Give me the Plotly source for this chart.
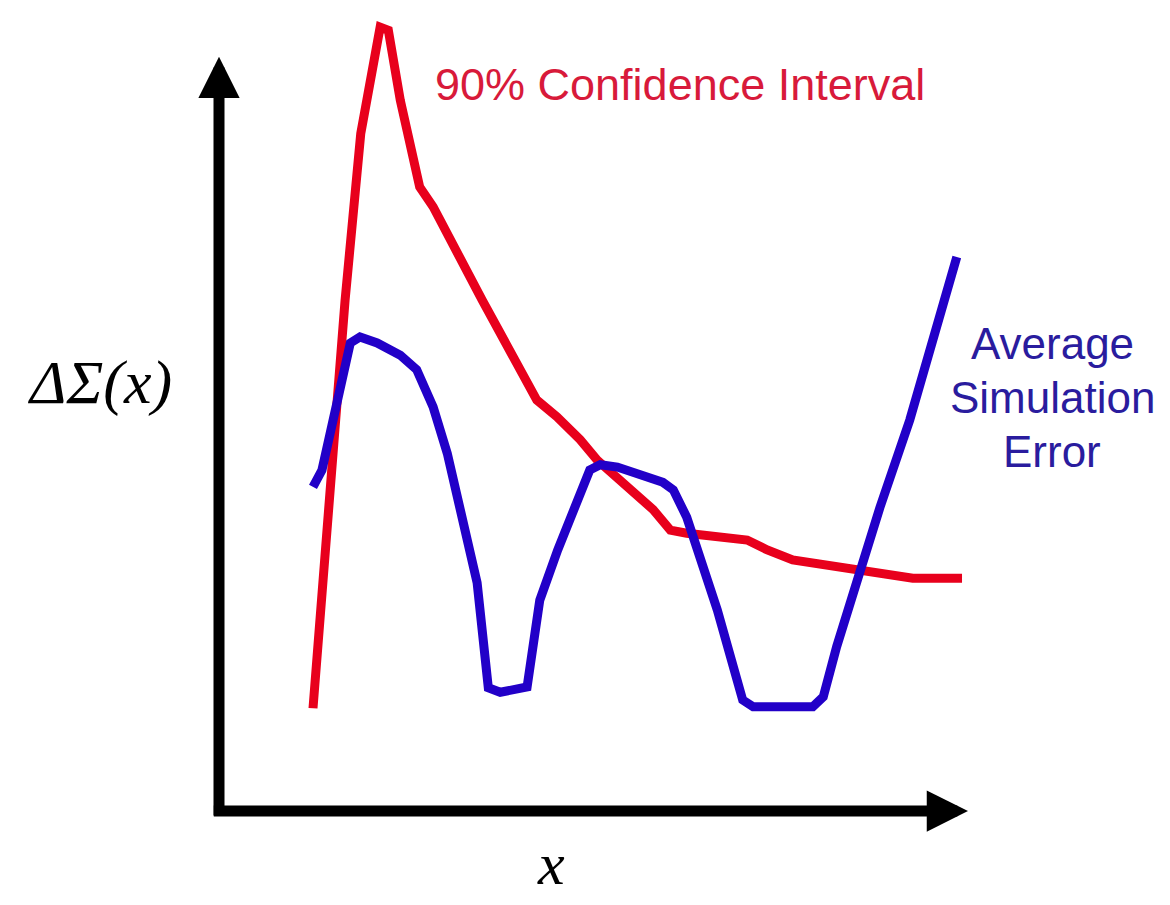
import plotly.graph_objects as go

# ---- data (arbitrary units, origin at the axes corner) ----
ci_x = [1.26, 1.69, 1.90, 2.16, 2.27, 2.43, 2.69, 2.87, 3.53, 3.94, 4.26, 4.53, 4.84,
        5.07, 5.47, 5.82, 6.05, 6.27, 7.08, 7.35, 7.69, 8.36, 8.82, 9.30, 9.96]
ci_y = [1.35, 6.71, 8.90, 10.30, 10.26, 9.34, 8.20, 7.94, 6.71, 5.97, 5.40, 5.18, 4.88,
        4.61, 4.26, 3.96, 3.69, 3.65, 3.56, 3.43, 3.30, 3.19, 3.13, 3.06, 3.06]

err_x = [1.26, 1.38, 1.76, 1.89, 2.12, 2.43, 2.65, 2.87, 3.06, 3.32, 3.46, 3.61, 3.77,
         4.13, 4.30, 4.54, 4.97, 5.11, 5.34, 5.95, 6.09, 6.27, 6.45, 6.68, 7.02, 7.16,
         7.96, 8.10, 8.28, 8.50, 8.69, 8.86, 9.26, 9.89]
err_y = [4.26, 4.48, 6.15, 6.23, 6.15, 5.99, 5.80, 5.31, 4.70, 3.65, 3.00, 1.62, 1.56,
         1.63, 2.77, 3.43, 4.48, 4.55, 4.52, 4.32, 4.22, 3.86, 3.30, 2.64, 1.46, 1.37,
         1.37, 1.50, 2.16, 2.86, 3.39, 3.99, 5.14, 7.28]

ci_label = "90% Confidence Interval"
err_label_lines = ["Average", "Simulation", "Error"]
y_label = "ΔΣ(x)"
x_label = "x"

RED = "#e8001c"
BLUE = "#2200c8"
RED_TXT = "#d81a3a"
BLUE_TXT = "#2a1c9e"

PAGE_W, PAGE_H = 1170, 905
OFF = 8  # default body margin of the html page
W, H = PAGE_W - OFF, PAGE_H - OFF
# page-pixel scale of the data area
ox, oy = 219.0 - OFF, 811.0 - OFF
sx, sy = 74.6, 76.1
xr = [(0 - ox) / sx, (W - ox) / sx]
yr = [(oy - H) / sy, (oy - 0) / sy]

fig = go.Figure()
fig.add_trace(go.Scatter(x=ci_x, y=ci_y, mode="lines",
                         line=dict(color=RED, width=9), hoverinfo="skip"))
fig.add_trace(go.Scatter(x=err_x, y=err_y, mode="lines",
                         line=dict(color=BLUE, width=9), hoverinfo="skip"))

annotations = []
# axis arrows
annotations.append(dict(x=0, y=9.91, ax=0, ay=-0.08, xref="x", yref="y", axref="x", ayref="y",
                        text="", showarrow=True, arrowhead=2, arrowwidth=11, arrowsize=0.75,
                        arrowcolor="black", standoff=0))
annotations.append(dict(x=10.04, y=0, ax=-0.09, ay=0, xref="x", yref="y", axref="x", ayref="y",
                        text="", showarrow=True, arrowhead=2, arrowwidth=11, arrowsize=0.75,
                        arrowcolor="black", standoff=0))


def px(xp):
    return (xp - OFF) / W


def py(yp):
    return 1 - (yp - OFF) / H


annotations.append(dict(x=px(680), y=py(84), xref="paper", yref="paper", text=ci_label,
                        showarrow=False, xanchor="center", yanchor="middle",
                        font=dict(family="Arial, Liberation Sans", size=45, color=RED_TXT)))
for t, yc in zip(err_label_lines, [343, 397, 451]):
    annotations.append(dict(x=px(1052), y=py(yc), xref="paper", yref="paper", text=t,
                            showarrow=False, xanchor="center", yanchor="middle",
                            font=dict(family="Arial, Liberation Sans", size=44, color=BLUE_TXT)))
annotations.append(dict(x=px(99), y=py(383), xref="paper", yref="paper",
                        text="<i>" + y_label + "</i>", showarrow=False,
                        xanchor="center", yanchor="middle",
                        font=dict(family="Liberation Serif, Times New Roman, serif", size=62, color="black")))
annotations.append(dict(x=px(551), y=py(864), xref="paper", yref="paper",
                        text="<i>" + x_label + "</i>", showarrow=False,
                        xanchor="center", yanchor="middle",
                        font=dict(family="Liberation Serif, Times New Roman, serif", size=60, color="black")))

fig.update_layout(
    width=W, height=H,
    margin=dict(l=0, r=0, t=0, b=0),
    paper_bgcolor="white", plot_bgcolor="white",
    showlegend=False,
    xaxis=dict(range=xr, visible=False, fixedrange=True),
    yaxis=dict(range=yr, visible=False, fixedrange=True),
    annotations=annotations,
)

fig.write_html("out.html", config={"displayModeBar": False})
